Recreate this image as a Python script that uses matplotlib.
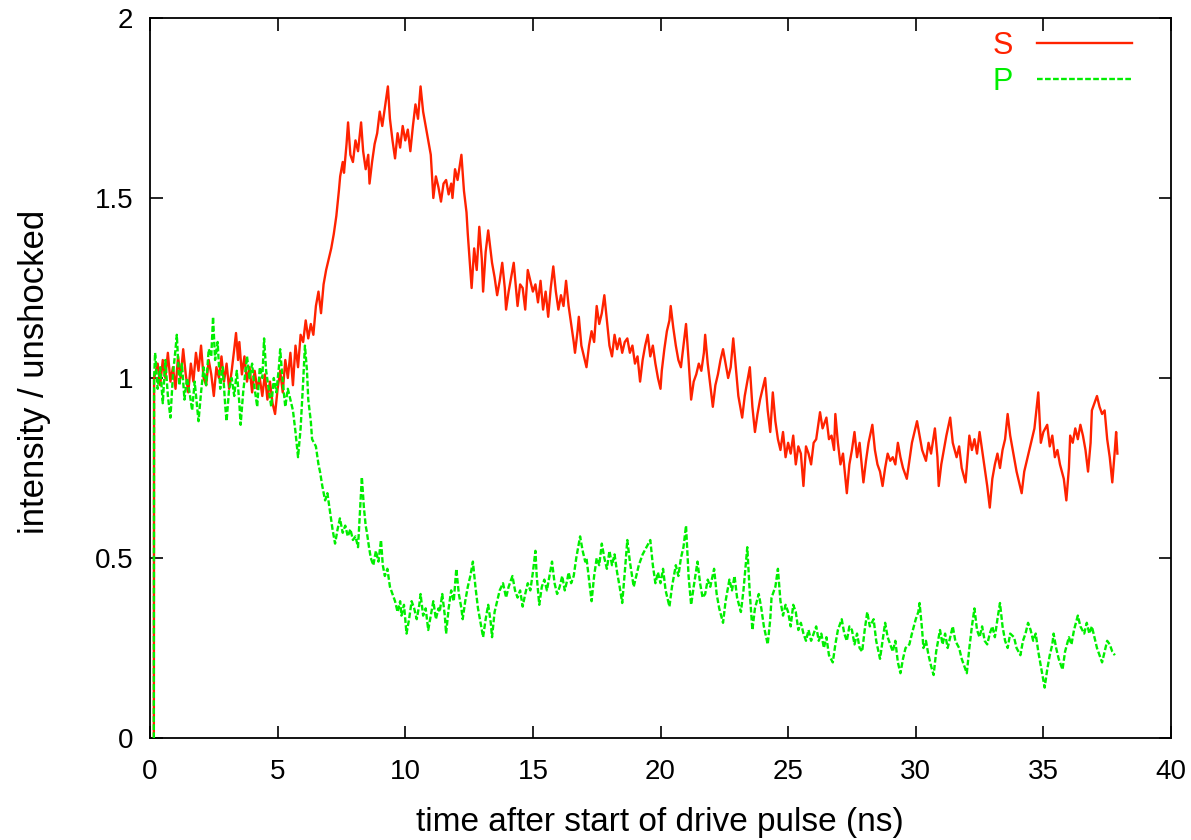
import matplotlib
matplotlib.use("Agg")
import matplotlib.pyplot as plt

# ---- data ----
s_time = [0.15, 0.16, 0.3, 0.4, 0.5, 0.6, 0.7, 0.8, 0.9, 1.0, 1.1, 1.2, 1.3, 1.4, 1.5, 1.6, 1.7, 1.8, 1.9, 2.0,
          2.1, 2.2, 2.3, 2.4, 2.5, 2.6, 2.7, 2.8, 2.9, 3.0, 3.1, 3.2, 3.3, 3.37, 3.45, 3.5, 3.6, 3.7, 3.8, 3.9,
          4.0, 4.1, 4.2, 4.3, 4.4, 4.5, 4.6, 4.7, 4.8, 4.9, 5.0, 5.1, 5.2, 5.3, 5.4, 5.5, 5.6, 5.7, 5.8, 5.9,
          6.0, 6.1, 6.2, 6.3, 6.4, 6.5, 6.6, 6.7, 6.8, 6.9, 7.0, 7.1, 7.2, 7.3, 7.4, 7.45, 7.55, 7.6, 7.7, 7.76,
          7.85, 7.95, 8.05, 8.15, 8.27, 8.35, 8.45, 8.55, 8.6, 8.7, 8.8, 8.9, 9.0, 9.1, 9.2, 9.32, 9.4, 9.5, 9.6, 9.7,
          9.8, 9.9, 10.0, 10.1, 10.2, 10.3, 10.4, 10.5, 10.6, 10.7, 10.8, 10.9, 11.0, 11.1, 11.2, 11.3, 11.4, 11.5, 11.6, 11.7,
          11.8, 11.85, 11.95, 12.05, 12.2, 12.3, 12.4, 12.45, 12.55, 12.6, 12.7, 12.8, 12.9, 13.0, 13.05, 13.15, 13.25, 13.4, 13.5, 13.6,
          13.7, 13.8, 13.9, 13.95, 14.05, 14.15, 14.25, 14.35, 14.4, 14.5, 14.6, 14.7, 14.8, 14.9, 15.0, 15.1, 15.2, 15.3, 15.4, 15.5,
          15.6, 15.7, 15.8, 15.9, 16.0, 16.1, 16.2, 16.3, 16.4, 16.5, 16.6, 16.65, 16.75, 16.8, 16.9, 17.0, 17.1, 17.2, 17.3, 17.4,
          17.5, 17.6, 17.7, 17.8, 17.9, 18.0, 18.1, 18.2, 18.3, 18.4, 18.5, 18.6, 18.7, 18.8, 18.9, 19.0, 19.1, 19.2, 19.3, 19.4,
          19.5, 19.6, 19.7, 19.8, 19.9, 20.0, 20.05, 20.15, 20.25, 20.35, 20.4, 20.5, 20.6, 20.7, 20.8, 20.9, 21.0, 21.1, 21.2, 21.3,
          21.4, 21.5, 21.6, 21.7, 21.75, 21.85, 21.95, 22.05, 22.15, 22.25, 22.35, 22.45, 22.55, 22.65, 22.75, 22.85, 22.95, 23.05, 23.15, 23.2,
          23.3, 23.4, 23.5, 23.6, 23.7, 23.8, 23.9, 24.0, 24.1, 24.2, 24.3, 24.4, 24.5, 24.6, 24.7, 24.8, 24.9, 25.0, 25.1, 25.2,
          25.3, 25.4, 25.5, 25.6, 25.7, 25.8, 25.9, 26.0, 26.1, 26.25, 26.35, 26.5, 26.6, 26.7, 26.8, 26.85, 26.95, 27.05, 27.15, 27.3,
          27.4, 27.5, 27.6, 27.7, 27.8, 27.95, 28.05, 28.15, 28.3, 28.4, 28.5, 28.6, 28.7, 28.8, 28.9, 29.0, 29.1, 29.2, 29.3, 29.4,
          29.5, 29.65, 29.75, 29.85, 30.05, 30.15, 30.25, 30.4, 30.5, 30.6, 30.75, 30.85, 30.9, 31.0, 31.1, 31.2, 31.35, 31.45, 31.6, 31.7,
          31.8, 31.95, 32.1, 32.2, 32.3, 32.4, 32.5, 32.6, 32.7, 32.8, 32.9, 33.0, 33.1, 33.2, 33.3, 33.4, 33.5, 33.6, 33.7, 33.85,
          33.95, 34.05, 34.15, 34.25, 34.35, 34.45, 34.55, 34.65, 34.8, 34.9, 35.0, 35.15, 35.25, 35.35, 35.45, 35.55, 35.65, 35.8, 35.9, 36.0,
          36.05, 36.15, 36.25, 36.35, 36.45, 36.55, 36.65, 36.75, 36.85, 36.9, 37.0, 37.1, 37.2, 37.3, 37.4, 37.5, 37.6, 37.7, 37.8, 37.85,
          37.9]
s_value = [0.0, 1.0, 1.04, 0.98, 1.05, 1.00, 1.07, 0.99, 1.03, 0.97, 1.06, 1.00, 1.08, 1.01, 0.96, 1.04, 0.99, 1.07, 1.02, 1.09,
           1.00, 0.98, 1.05, 1.01, 0.95, 1.03, 1.00, 1.06, 0.99, 1.04, 0.97, 1.02, 1.08, 1.125, 1.05, 1.10, 1.01, 1.06, 0.99, 1.03,
           0.96, 1.02, 0.97, 1.00, 0.95, 1.01, 0.94, 0.99, 0.93, 0.90, 0.97, 1.02, 0.96, 1.05, 1.00, 1.07, 0.98, 1.09, 1.03, 1.12,
           1.10, 1.16, 1.11, 1.15, 1.12, 1.20, 1.24, 1.18, 1.26, 1.30, 1.33, 1.36, 1.40, 1.45, 1.52, 1.56, 1.60, 1.57, 1.65, 1.71,
           1.62, 1.60, 1.66, 1.63, 1.71, 1.63, 1.58, 1.62, 1.54, 1.60, 1.65, 1.68, 1.74, 1.70, 1.75, 1.81, 1.72, 1.66, 1.61, 1.68,
           1.64, 1.70, 1.66, 1.69, 1.63, 1.70, 1.76, 1.72, 1.81, 1.74, 1.70, 1.66, 1.62, 1.50, 1.56, 1.53, 1.49, 1.54, 1.55, 1.51,
           1.54, 1.50, 1.58, 1.55, 1.62, 1.52, 1.46, 1.40, 1.30, 1.25, 1.36, 1.30, 1.42, 1.33, 1.24, 1.35, 1.41, 1.32, 1.28, 1.23,
           1.27, 1.32, 1.25, 1.19, 1.24, 1.28, 1.32, 1.24, 1.20, 1.26, 1.25, 1.19, 1.30, 1.27, 1.24, 1.26, 1.21, 1.27, 1.19, 1.24,
           1.17, 1.25, 1.31, 1.24, 1.19, 1.23, 1.20, 1.27, 1.20, 1.15, 1.10, 1.07, 1.13, 1.17, 1.09, 1.06, 1.03, 1.09, 1.13, 1.10,
           1.20, 1.15, 1.18, 1.23, 1.16, 1.09, 1.06, 1.12, 1.08, 1.11, 1.07, 1.10, 1.11, 1.07, 1.09, 1.04, 1.06, 0.99, 1.05, 1.09,
           1.12, 1.06, 1.09, 1.04, 1.00, 0.97, 1.02, 1.08, 1.13, 1.16, 1.20, 1.14, 1.09, 1.05, 1.03, 1.09, 1.15, 1.05, 0.94, 0.99,
           1.01, 1.04, 1.02, 1.07, 1.12, 1.04, 0.98, 0.92, 0.98, 1.01, 1.05, 1.08, 1.04, 1.00, 1.03, 1.11, 1.03, 0.95, 0.91, 0.89,
           0.95, 0.99, 1.03, 0.92, 0.85, 0.90, 0.94, 0.97, 1.00, 0.91, 0.85, 0.96, 0.88, 0.83, 0.80, 0.85, 0.78, 0.82, 0.79, 0.84,
           0.76, 0.81, 0.79, 0.70, 0.81, 0.79, 0.76, 0.82, 0.83, 0.905, 0.86, 0.89, 0.83, 0.84, 0.80, 0.90, 0.82, 0.76, 0.79, 0.68,
           0.76, 0.80, 0.85, 0.78, 0.82, 0.71, 0.77, 0.82, 0.87, 0.80, 0.76, 0.74, 0.70, 0.75, 0.79, 0.77, 0.78, 0.76, 0.82, 0.78,
           0.75, 0.72, 0.77, 0.82, 0.88, 0.84, 0.80, 0.77, 0.82, 0.79, 0.86, 0.78, 0.70, 0.76, 0.80, 0.84, 0.89, 0.82, 0.78, 0.81,
           0.75, 0.71, 0.84, 0.80, 0.83, 0.79, 0.85, 0.80, 0.75, 0.70, 0.64, 0.72, 0.76, 0.79, 0.75, 0.80, 0.83, 0.90, 0.84, 0.78,
           0.74, 0.71, 0.68, 0.74, 0.77, 0.80, 0.83, 0.86, 0.96, 0.82, 0.85, 0.87, 0.81, 0.84, 0.78, 0.80, 0.76, 0.72, 0.66, 0.75,
           0.84, 0.82, 0.86, 0.83, 0.87, 0.84, 0.80, 0.74, 0.82, 0.91, 0.93, 0.95, 0.92, 0.90, 0.91, 0.83, 0.78, 0.71, 0.80, 0.85,
           0.79]

p_time = [0.15, 0.16, 0.2, 0.3, 0.4, 0.5, 0.6, 0.7, 0.8, 0.9, 1.0, 1.05, 1.15, 1.25, 1.35, 1.45, 1.55, 1.65, 1.75, 1.9,
          2.0, 2.1, 2.2, 2.3, 2.4, 2.47, 2.55, 2.65, 2.75, 2.85, 2.95, 3.0, 3.1, 3.2, 3.3, 3.4, 3.5, 3.55, 3.65, 3.8,
          3.9, 4.0, 4.1, 4.2, 4.3, 4.4, 4.47, 4.55, 4.65, 4.75, 4.85, 4.95, 5.05, 5.1, 5.2, 5.3, 5.4, 5.5, 5.6, 5.7,
          5.8, 5.9, 6.0, 6.07, 6.15, 6.2, 6.3, 6.35, 6.5, 6.6, 6.66, 6.75, 6.86, 6.95, 7.05, 7.15, 7.25, 7.35, 7.44, 7.55,
          7.65, 7.75, 7.85, 7.95, 8.05, 8.15, 8.22, 8.3, 8.38, 8.45, 8.5, 8.58, 8.65, 8.75, 8.85, 8.95, 9.05, 9.12, 9.2, 9.3,
          9.4, 9.5, 9.6, 9.7, 9.8, 9.85, 9.95, 10.05, 10.15, 10.25, 10.35, 10.45, 10.55, 10.6, 10.7, 10.8, 10.9, 11.0, 11.1, 11.2,
          11.3, 11.35, 11.45, 11.55, 11.6, 11.7, 11.8, 11.9, 12.0, 12.1, 12.2, 12.25, 12.35, 12.45, 12.55, 12.65, 12.75, 12.85, 12.95, 13.05,
          13.15, 13.25, 13.35, 13.4, 13.5, 13.6, 13.7, 13.83, 13.95, 14.05, 14.2, 14.3, 14.4, 14.5, 14.6, 14.7, 14.8, 14.9, 15.0, 15.1,
          15.15, 15.25, 15.35, 15.45, 15.55, 15.65, 15.75, 15.85, 15.95, 16.05, 16.15, 16.25, 16.35, 16.4, 16.5, 16.6, 16.7, 16.85, 16.95, 17.05,
          17.1, 17.2, 17.3, 17.4, 17.5, 17.6, 17.7, 17.8, 17.9, 18.0, 18.1, 18.2, 18.3, 18.4, 18.5, 18.6, 18.7, 18.8, 18.95, 19.05,
          19.15, 19.3, 19.45, 19.6, 19.7, 19.8, 19.9, 20.0, 20.1, 20.2, 20.35, 20.45, 20.6, 20.7, 20.8, 20.9, 21.0, 21.1, 21.2, 21.3,
          21.45, 21.55, 21.65, 21.75, 21.85, 21.95, 22.1, 22.2, 22.3, 22.45, 22.55, 22.7, 22.8, 22.9, 23.0, 23.15, 23.25, 23.4, 23.5, 23.6,
          23.7, 23.85, 23.95, 24.05, 24.2, 24.3, 24.35, 24.5, 24.6, 24.7, 24.8, 24.9, 25.0, 25.1, 25.2, 25.3, 25.4, 25.5, 25.6, 25.7,
          25.8, 25.9, 26.0, 26.1, 26.2, 26.3, 26.4, 26.5, 26.6, 26.75, 26.85, 26.95, 27.1, 27.2, 27.3, 27.4, 27.5, 27.6, 27.7, 27.8,
          27.9, 28.0, 28.1, 28.2, 28.35, 28.45, 28.6, 28.7, 28.8, 28.9, 29.0, 29.1, 29.2, 29.3, 29.4, 29.5, 29.6, 29.75, 29.85, 30.0,
          30.1, 30.15, 30.25, 30.3, 30.4, 30.5, 30.6, 30.7, 30.8, 30.95, 31.05, 31.15, 31.25, 31.35, 31.45, 31.55, 31.7, 31.8, 31.9, 32.0,
          32.1, 32.2, 32.3, 32.4, 32.5, 32.6, 32.7, 32.8, 32.9, 33.0, 33.1, 33.2, 33.3, 33.4, 33.5, 33.6, 33.7, 33.85, 33.95, 34.1,
          34.2, 34.3, 34.4, 34.5, 34.6, 34.7, 34.8, 34.9, 35.05, 35.15, 35.25, 35.35, 35.4, 35.5, 35.6, 35.75, 35.85, 36.0, 36.1, 36.2,
          36.35, 36.45, 36.6, 36.7, 36.8, 36.9, 37.0, 37.1, 37.2, 37.3, 37.4, 37.5, 37.6, 37.7, 37.8]
p_value = [0.0, 1.0, 1.07, 0.97, 1.03, 0.93, 1.05, 0.95, 0.89, 1.01, 1.08, 1.12, 0.98, 1.04, 0.94, 1.00, 0.96, 0.91, 0.99, 0.88,
           0.96, 1.03, 0.98, 1.08, 1.06, 1.17, 1.05, 1.10, 0.97, 1.03, 0.92, 0.88, 0.97, 1.00, 0.95, 1.02, 0.93, 0.87, 0.96, 1.06,
           1.00, 1.04, 0.97, 0.92, 1.03, 1.00, 1.11, 1.02, 0.97, 0.92, 1.00, 0.96, 1.03, 1.08, 0.99, 0.92, 0.97, 0.94, 0.91, 0.85,
           0.78, 0.86, 0.99, 1.09, 1.02, 0.94, 0.88, 0.83, 0.81, 0.76, 0.74, 0.70, 0.66, 0.68, 0.63, 0.58, 0.54, 0.58, 0.61, 0.57,
           0.59, 0.56, 0.58, 0.55, 0.56, 0.53, 0.62, 0.725, 0.64, 0.59, 0.57, 0.53, 0.50, 0.48, 0.52, 0.49, 0.55, 0.48, 0.45, 0.47,
           0.42, 0.40, 0.38, 0.35, 0.38, 0.34, 0.37, 0.29, 0.33, 0.38, 0.36, 0.33, 0.37, 0.40, 0.34, 0.36, 0.30, 0.34, 0.38, 0.33,
           0.36, 0.35, 0.40, 0.34, 0.29, 0.36, 0.41, 0.38, 0.47, 0.40, 0.36, 0.33, 0.38, 0.42, 0.45, 0.49, 0.42, 0.36, 0.32, 0.28,
           0.33, 0.37, 0.32, 0.28, 0.35, 0.38, 0.41, 0.43, 0.39, 0.42, 0.45, 0.41, 0.39, 0.41, 0.365, 0.40, 0.43, 0.41, 0.46, 0.52,
           0.45, 0.37, 0.42, 0.44, 0.41, 0.45, 0.49, 0.43, 0.40, 0.42, 0.45, 0.41, 0.44, 0.46, 0.43, 0.45, 0.50, 0.56, 0.52, 0.49,
           0.50, 0.44, 0.38, 0.45, 0.50, 0.48, 0.54, 0.50, 0.47, 0.52, 0.48, 0.51, 0.46, 0.42, 0.375, 0.46, 0.55, 0.49, 0.42, 0.45,
           0.48, 0.51, 0.53, 0.55, 0.48, 0.43, 0.46, 0.43, 0.47, 0.41, 0.365, 0.42, 0.48, 0.45, 0.50, 0.53, 0.59, 0.45, 0.37, 0.42,
           0.49, 0.43, 0.39, 0.40, 0.44, 0.42, 0.47, 0.40, 0.36, 0.32, 0.38, 0.44, 0.41, 0.45, 0.39, 0.35, 0.41, 0.53, 0.40, 0.30,
           0.36, 0.40, 0.36, 0.31, 0.26, 0.33, 0.39, 0.42, 0.47, 0.38, 0.34, 0.37, 0.35, 0.31, 0.37, 0.35, 0.30, 0.32, 0.29, 0.27,
           0.30, 0.27, 0.29, 0.31, 0.27, 0.29, 0.25, 0.28, 0.23, 0.21, 0.26, 0.30, 0.33, 0.29, 0.27, 0.31, 0.30, 0.26, 0.29, 0.25,
           0.24, 0.30, 0.35, 0.31, 0.33, 0.27, 0.22, 0.27, 0.32, 0.28, 0.26, 0.24, 0.27, 0.21, 0.18, 0.22, 0.25, 0.26, 0.29, 0.33,
           0.35, 0.375, 0.30, 0.25, 0.27, 0.23, 0.20, 0.175, 0.24, 0.30, 0.26, 0.29, 0.25, 0.28, 0.31, 0.27, 0.25, 0.22, 0.20, 0.18,
           0.25, 0.31, 0.36, 0.30, 0.28, 0.31, 0.27, 0.26, 0.29, 0.31, 0.28, 0.33, 0.375, 0.31, 0.27, 0.25, 0.29, 0.28, 0.25, 0.23,
           0.27, 0.29, 0.32, 0.30, 0.27, 0.29, 0.24, 0.20, 0.14, 0.19, 0.23, 0.26, 0.29, 0.25, 0.22, 0.19, 0.24, 0.28, 0.26, 0.30,
           0.34, 0.31, 0.29, 0.32, 0.29, 0.31, 0.28, 0.25, 0.23, 0.21, 0.24, 0.27, 0.26, 0.24, 0.23]

x_ticks = [0, 5, 10, 15, 20, 25, 30, 35, 40]
y_ticks = [0, 0.5, 1, 1.5, 2]
y_tick_labels = ["0", "0.5", "1", "1.5", "2"]

plt.rcParams['font.family'] = ['Liberation Sans', 'DejaVu Sans']

W, H = 1191, 840
fig = plt.figure(figsize=(W / 100, H / 100), dpi=100)
ax = fig.add_axes([150 / W, 1 - 738 / H, (1171 - 150) / W, (738 - 18) / H])

red = '#ff2200'
green = '#00ee00'
ax.plot(s_time, s_value, color=red, lw=1.7, label='S', zorder=2)
ax.plot(p_time, p_value, color=green, lw=1.7, dashes=(2.4, 1.0), label='P', zorder=3)

ax.set_xlim(0, 40)
ax.set_ylim(0, 2)
ax.set_xticks(x_ticks)
ax.set_xticklabels([str(v) for v in x_ticks])
ax.set_yticks(y_ticks)
ax.set_yticklabels(y_tick_labels)
ax.tick_params(axis='x', pad=15)
ax.tick_params(axis='y', pad=12)
ax.tick_params(direction='in', length=9, width=1.2, top=True, right=True,
               labelsize=20, colors='black')
for sp in ax.spines.values():
    sp.set_linewidth(1.3)

fig.text(660 / W, 1 - 823 / H, 'time after start of drive pulse (ns)', fontsize=24,
         ha='center', va='center')
fig.text(35 / W, 1 - 372 / H, 'intensity / unshocked', fontsize=25,
         ha='center', va='center', rotation=90)

leg = ax.legend(loc='upper right', bbox_to_anchor=(1132 / W, 1 - 31 / H),
                bbox_transform=fig.transFigure, frameon=False,
                markerfirst=False, fontsize=22, handlelength=3.1, labelcolor='linecolor',
                handletextpad=0.8, labelspacing=0.2, borderaxespad=0, borderpad=0)

fig.savefig('out.png', dpi=100)
